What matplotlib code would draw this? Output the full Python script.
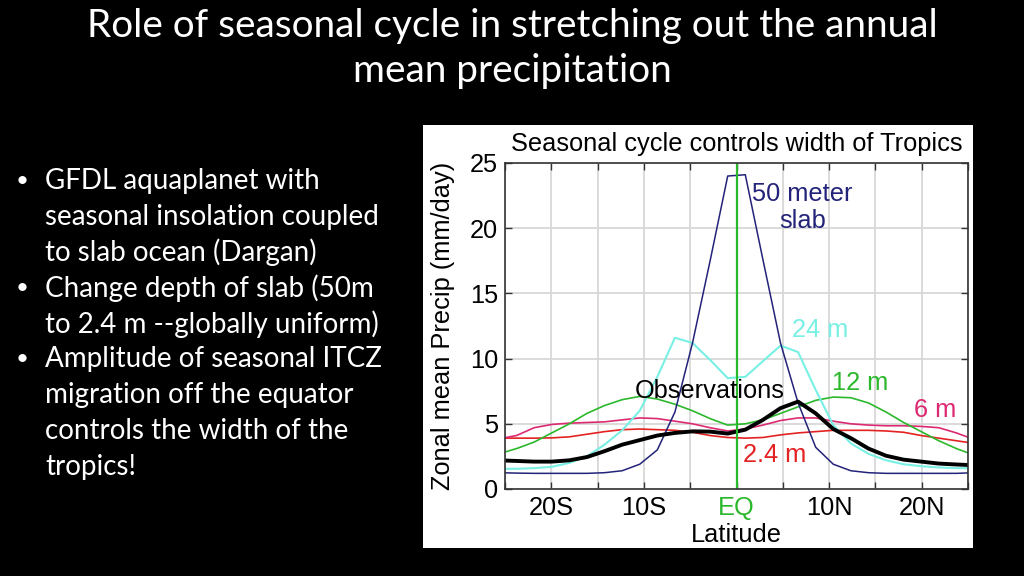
import numpy as np
import matplotlib
matplotlib.use("Agg")
import matplotlib.pyplot as plt
from matplotlib.patches import Rectangle

# model latitudes (deg) and zonal mean precip (mm/day)
lat = [-25.65, -23.75, -21.85, -19.95, -18.05, -16.15, -14.25, -12.35, -10.45,
       -8.55, -6.65, -4.75, -2.85, -0.95, 0.95, 2.85, 4.75, 6.65, 8.55, 10.45,
       12.35, 14.25, 16.15, 18.05, 19.95, 21.85, 23.75, 25.65]

slab50 = [1.25, 1.22, 1.2, 1.2, 1.2, 1.2, 1.25, 1.4, 1.9, 3.0, 5.9, 11.2, 17.5,
          24.0, 24.1, 17.6, 11.2, 6.6, 3.2, 1.9, 1.4, 1.25, 1.2, 1.2, 1.2, 1.2,
          1.2, 1.25]
slab24 = [1.55, 1.55, 1.6, 1.7, 2.0, 2.5, 3.4, 4.5, 6.0, 8.6, 11.6, 11.2, 9.9,
          8.5, 8.6, 9.8, 11.0, 10.5, 7.6, 4.9, 3.5, 2.7, 2.2, 1.9, 1.75, 1.65,
          1.6, 1.6]
slab12 = [2.7, 3.1, 3.6, 4.3, 5.0, 5.8, 6.4, 6.85, 7.1, 6.9, 6.5, 6.0, 5.4, 4.9,
          5.0, 5.3, 5.8, 6.3, 6.8, 7.05, 7.0, 6.6, 5.9, 5.1, 4.4, 3.7, 3.1, 2.6]
slab6 = [3.85, 4.1, 4.7, 4.95, 5.05, 5.1, 5.15, 5.3, 5.45, 5.4, 5.2, 5.0, 4.7,
         4.45, 4.6, 4.9, 5.25, 5.45, 5.45, 5.2, 5.0, 4.9, 4.85, 4.85, 4.8, 4.7,
         4.3, 3.8]
slab2p4 = [3.9, 3.9, 3.9, 3.92, 4.0, 4.2, 4.4, 4.55, 4.6, 4.55, 4.5, 4.35, 4.1,
           3.95, 3.9, 3.95, 4.15, 4.3, 4.4, 4.5, 4.5, 4.5, 4.45, 4.35, 4.1, 3.9,
           3.7, 3.5]
obs = [2.2, 2.15, 2.1, 2.1, 2.2, 2.45, 2.9, 3.4, 3.75, 4.1, 4.3, 4.42, 4.4,
       4.25, 4.55, 5.3, 6.2, 6.7, 5.8, 4.6, 3.9, 3.1, 2.55, 2.25, 2.1, 1.95,
       1.88, 1.82]

xticks = [-20, -10, 0, 10, 20]
xticklabels = ["20S", "10S", "EQ", "10N", "20N"]

bullets = [
    ("GFDL aquaplanet with", True),
    ("seasonal insolation coupled", False),
    ("to slab ocean (Dargan)", False),
    ("Change depth of slab (50m", True),
    ("to 2.4 m --globally uniform)", False),
    ("Amplitude of seasonal ITCZ", True),
    ("migration off the equator", False),
    ("controls the width of the", False),
    ("tropics!", False),
]

navy = "#23237a"
cyan = "#78f0e4"
green = "#2cb82c"
pink = "#dc2a72"
red = "#e42222"
fs = 18.3

fig = plt.figure(figsize=(10.24, 5.76), dpi=100)
fig.patch.set_facecolor("black")

# slide title
fig.text(0.5, 1 - 26/576, "Role of seasonal cycle in stretching out the annual",
         color="white", fontsize=27.9, family="Lato", ha="center", va="center")
fig.text(0.5, 1 - 71/576, "mean precipitation",
         color="white", fontsize=27.9, family="Lato", ha="center", va="center")

# bullets
for i, (txt, b) in enumerate(bullets):
    y = 1 - (181 + i*35.7)/576
    if b:
        fig.text(22/1024, y, "\u2022", color="white", fontsize=16,
                 family="Lato", ha="center", va="center")
    fig.text(45/1024, y, txt, color="white", fontsize=20, family="Lato",
             ha="left", va="center")

# white panel behind the chart
fig.patches.append(Rectangle((423/1024, 1 - 548/576), 550/1024, 423/576,
                             transform=fig.transFigure, facecolor="white",
                             edgecolor="none", zorder=-1))

ax = fig.add_axes([505/1024, 1 - 489/576, 463/1024, 326/576])
ax.set_zorder(2)
ax.set_facecolor("white")
ax.plot(lat, slab2p4, color=red, lw=1.2)
ax.plot(lat, slab6, color=pink, lw=1.2)
ax.plot(lat, slab12, color=green, lw=1.2)
ax.plot(lat, slab24, color=cyan, lw=1.5)
ax.plot(lat, slab50, color=navy, lw=1.1)
ax.plot(lat, obs, color="black", lw=2.8)
ax.axvline(0, color=green, lw=1.6)

ax.set_xlim(-25, 25)
ax.set_ylim(0, 25)
ax.set_xticks(xticks)
ax.set_xticks([-25, -15, -5, 5, 15, 25], minor=True)
ax.set_xticklabels(xticklabels)
ax.set_yticks([0, 5, 10, 15, 20, 25])
ax.grid(True, which="both", color="#d8d8d8", lw=1.3)
ax.set_axisbelow(True)
ax.tick_params(which="both", direction="in", top=True, right=True,
               length=5, width=1, color="#333333", labelsize=fs, pad=5)
for lab in ax.get_xticklabels() + ax.get_yticklabels():
    lab.set_family("Liberation Sans")
ax.get_xticklabels()[2].set_color(green)
for s in ax.spines.values():
    s.set_color("#333333")
    s.set_linewidth(1.2)

ax.set_title("Seasonal cycle controls width of Tropics", fontsize=fs,
             family="Liberation Sans", pad=9)
ax.set_xlabel("Latitude", fontsize=fs, family="Liberation Sans", labelpad=2)
ax.set_ylabel("Zonal mean Precip (mm/day)", fontsize=fs,
              family="Liberation Sans", labelpad=11)

tk = dict(fontsize=fs, family="Liberation Sans", ha="center", va="center")
ax.text(7.1, 21.6, "50 meter\nslab", color=navy, linespacing=1.15, **tk)
ax.text(9.0, 12.2, "24 m", color=cyan, **tk)
ax.text(13.4, 8.1, "12 m", color=green, **tk)
ax.text(21.5, 6.05, "6 m", color=pink, **tk)
ax.text(4.1, 2.6, "2.4 m", color=red, **tk)
ax.text(-2.9, 7.5, "Observations", color="black", **tk)

fig.savefig("out.png", dpi=100, facecolor="black")
